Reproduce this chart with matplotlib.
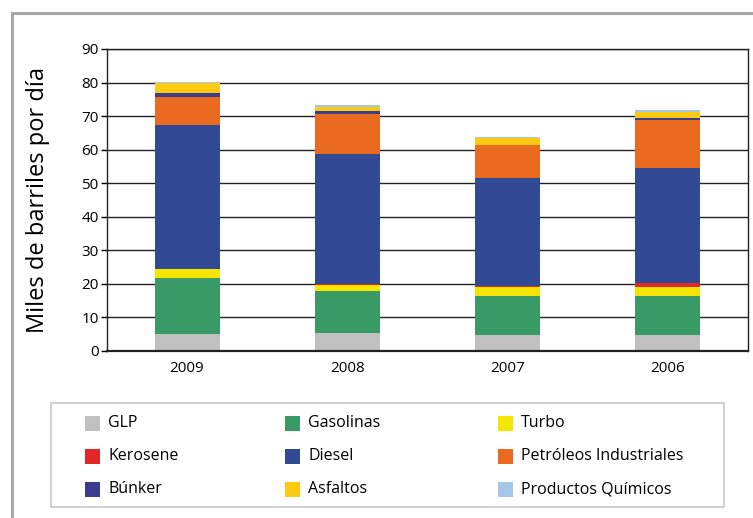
import numpy as np
import matplotlib
matplotlib.use("Agg")
from matplotlib import pyplot as plt
from matplotlib.patches import Rectangle

plt.rcParams['font.family'] = ['Open Sans', 'DejaVu Sans']

#--- DATA ---------------------------------------------------------------------+

years = ['2009', '2008', '2007', '2006']

series = ['GLP', 'Gasolinas', 'Turbo',
          'Kerosene', 'Diesel', 'Petróleos Industriales',
          'Búnker', 'Asfaltos', 'Productos Químicos']

glp        = [5.1, 5.4, 4.8, 4.8]
gasolinas  = [16.8, 12.5, 11.7, 11.6]
turbo      = [2.6, 1.8, 2.7, 2.7]
kerosene   = [0.0, 0.4, 0.3, 1.2]
diesel     = [42.9, 38.7, 32.0, 34.2]
petroleos  = [8.4, 11.8, 9.9, 14.3]
bunker     = [1.2, 0.9, 0.0, 0.6]
asfaltos   = [2.9, 1.2, 2.2, 1.8]
quimicos   = [0.4, 0.6, 0.3, 0.6]

colors = ['#c0c0c0', '#3a9a67', '#f5e600',
          '#e3262a', '#324a94', '#ea6a20',
          '#3a3d8e', '#fdca12', '#a6c8e6']

# stacking order, bottom to top
stack = [glp, gasolinas, turbo, kerosene, diesel, petroleos, bunker, asfaltos, quimicos]

#--- FIGURE -------------------------------------------------------------------+

W, H = 753, 518
fig = plt.figure(figsize=(W / 100, H / 100), dpi=100)


def px(x, y):
    # pixel (from top-left) -> figure fraction
    return x / W, 1 - y / H


ax_l, ax_r, ax_t, ax_b = 107, 748, 49, 351
ax = fig.add_axes([ax_l / W, 1 - ax_b / H, (ax_r - ax_l) / W, (ax_b - ax_t) / H])

x = np.arange(len(years))
bottom = np.zeros(len(years))
for vals, c, name in zip(stack, colors, series):
    ax.bar(x, vals, width=0.405, bottom=bottom, color=c, label=name, zorder=2)
    bottom += np.array(vals)

ax.set_xlim(-0.5, 3.5)
ax.set_ylim(0, 90)
ax.set_yticks(range(0, 91, 10))
ax.set_xticks(x)
ax.set_xticklabels(years, fontsize=11)
ax.tick_params(axis='y', labelsize=11, length=4, width=1, direction='out', pad=2)
ax.tick_params(axis='x', length=0, pad=7)
ax.yaxis.grid(True, color='#222222', linewidth=1)
ax.set_axisbelow(True)
for s in ax.spines.values():
    s.set_color('#222222')
    s.set_linewidth(1)
ax.spines['bottom'].set_linewidth(1.6)
ax.set_ylabel('Miles de barriles por día', fontsize=17)
ax.yaxis.set_label_coords((50 - ax_l) / (ax_r - ax_l), 0.5)

# outer frame
fx, fy = px(12, 13)
fig.add_artist(Rectangle((fx, -0.1), 1.2, fy + 0.1, transform=fig.transFigure,
                         fill=False, edgecolor='#a8a8a8', linewidth=2.2))

# legend box
lx0, ly0 = px(51, 507)
lx1, ly1 = px(724, 403)
fig.add_artist(Rectangle((lx0, ly0), lx1 - lx0, ly1 - ly0, transform=fig.transFigure,
                         fill=False, edgecolor='#c8c8c8', linewidth=1.2))

col_x = [85, 285, 498]
row_y = [423, 456, 489]
for i, (name, c) in enumerate(zip(series, colors)):
    cx = col_x[i % 3]
    cy = row_y[i // 3]
    sx, sy = px(cx, cy + 7.5)
    fig.add_artist(Rectangle((sx, sy), 15 / W, 15 / H, transform=fig.transFigure,
                             color=c, linewidth=0))
    tx, ty = px(cx + 23, cy)
    fig.text(tx, ty, name, fontsize=11.5, va='center', ha='left')

plt.savefig('out.png', dpi=100)
